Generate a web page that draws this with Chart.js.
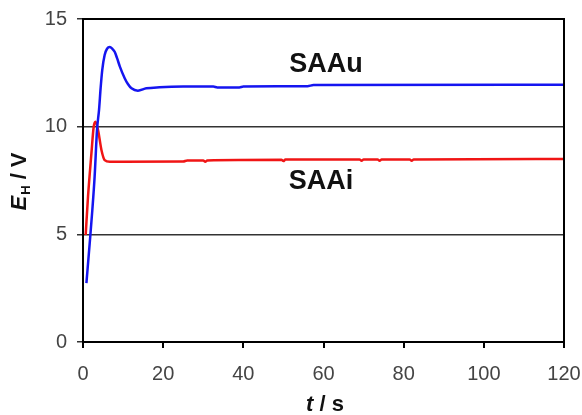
<!DOCTYPE html>
<html>
<head>
<meta charset="utf-8">
<script src="https://cdn.jsdelivr.net/npm/chart.js@4/dist/chart.umd.min.js"></script>
<style>
  html, body { margin: 0; padding: 0; background: #fff; }
  #wrap { width: 582px; height: 415px; }
</style>
</head>
<body>
<div id="wrap"><canvas id="chart"></canvas></div>
<script>
// time (s) and potential (V)
const saauTime = [0.85, 1.67, 2.33, 2.9, 3.5, 4.0, 4.4, 4.8, 5.4, 6.0, 6.7, 7.3, 7.9, 8.5, 9.2, 10.4, 11.2, 12.1, 13.7, 15.8, 19.1, 25, 32.5, 33.5, 39, 40, 56, 57.5, 120];
const saauValue = [2.73, 4.58, 6.13, 7.68, 9.85, 10.78, 11.8, 12.63, 13.33, 13.62, 13.7, 13.62, 13.48, 13.18, 12.79, 12.25, 11.98, 11.78, 11.67, 11.78, 11.83, 11.86, 11.86, 11.82, 11.82, 11.86, 11.88, 11.93, 11.95];

const saaiTime = [0.67, 1.25, 2.1, 2.67, 3.1, 3.75, 4.6, 5.4, 6.7, 10, 25, 26, 30, 30.5, 31, 49.5, 50, 50.5, 69, 69.5, 70, 73.5, 74, 74.5, 81.5, 82, 82.5, 120];
const saaiValue = [4.97, 6.75, 8.76, 10.0, 10.23, 9.85, 8.92, 8.45, 8.37, 8.37, 8.38, 8.43, 8.43, 8.37, 8.43, 8.46, 8.4, 8.47, 8.48, 8.42, 8.48, 8.48, 8.42, 8.48, 8.48, 8.42, 8.48, 8.5];

const xTicks = [0, 20, 40, 60, 80, 100, 120];
const yTicks = [0, 5, 10, 15];

// curve labels: text, t, value
const curveLabels = [
  { text: 'SAAu', t: 60.6, v: 12.9 },
  { text: 'SAAi', t: 59.4, v: 7.43 }
];

const FONT = "Arial, 'Liberation Sans', sans-serif";

function toPoints(xs, ys) {
  return xs.map((x, i) => ({ x: x, y: ys[i] }));
}

// frame, curve labels and axis titles (with subscript)
const extrasPlugin = {
  id: 'extras',
  afterDatasetsDraw(chart) {
    const { ctx, chartArea, scales } = chart;
    ctx.save();
    ctx.strokeStyle = '#000';
    ctx.lineWidth = 2;
    ctx.strokeRect(chartArea.left, chartArea.top, chartArea.right - chartArea.left, chartArea.bottom - chartArea.top);

    ctx.fillStyle = '#111';
    ctx.font = 'bold 27px ' + FONT;
    ctx.textAlign = 'center';
    ctx.textBaseline = 'middle';
    curveLabels.forEach(l => {
      ctx.fillText(l.text, scales.x.getPixelForValue(l.t), scales.y.getPixelForValue(l.v));
    });

    // x title
    ctx.textBaseline = 'alphabetic';
    ctx.textAlign = 'left';
    const big = 'bold 22px ' + FONT;
    const bigItalic = 'italic bold 22px ' + FONT;
    ctx.font = bigItalic;
    const wT = ctx.measureText('t').width;
    ctx.font = big;
    const wRest = ctx.measureText(' / s').width;
    let x0 = 325 - (wT + wRest) / 2;
    ctx.font = bigItalic;
    ctx.fillText('t', x0, 411);
    ctx.font = big;
    ctx.fillText(' / s', x0 + wT, 411);

    // y title, rotated
    ctx.translate(26, 182);
    ctx.rotate(-Math.PI / 2);
    const sub = 'bold 13px ' + FONT;
    ctx.font = bigItalic;
    const wE = ctx.measureText('E').width;
    ctx.font = sub;
    const wH = ctx.measureText('H').width;
    ctx.font = big;
    const wV = ctx.measureText(' / V').width;
    let s = -(wE + wH + wV) / 2;
    ctx.font = bigItalic;
    ctx.fillText('E', s, 0);
    ctx.font = sub;
    ctx.fillText('H', s + wE + 1, 4);
    ctx.font = big;
    ctx.fillText(' / V', s + wE + wH + 1, 0);
    ctx.restore();
  }
};

new Chart(document.getElementById('chart').getContext('2d'), {
  type: 'line',
  data: {
    datasets: [{
      label: 'SAAu',
      data: toPoints(saauTime, saauValue),
      borderColor: '#1515f0',
      borderWidth: 2.5,
      pointRadius: 0,
      fill: false,
      cubicInterpolationMode: 'monotone'
    }, {
      label: 'SAAi',
      data: toPoints(saaiTime, saaiValue),
      borderColor: '#f01515',
      borderWidth: 2.5,
      pointRadius: 0,
      fill: false,
      cubicInterpolationMode: 'monotone'
    }]
  },
  options: {
    responsive: true,
    maintainAspectRatio: false,
    animation: false,
    layout: { padding: { top: 19, right: 18, left: 0, bottom: 0 } },
    plugins: {
      legend: { display: false },
      tooltip: { enabled: false }
    },
    scales: {
      x: {
        type: 'linear',
        min: 0,
        max: 120,
        afterBuildTicks: scale => { scale.ticks = xTicks.map(v => ({ value: v })); },
        afterFit: scale => {
          scale.height = 73;
          scale.paddingLeft = 0;
          scale.paddingRight = 0;
        },
        ticks: { color: '#444', font: { family: FONT, size: 20 }, padding: 14, maxRotation: 0 },
        grid: { drawOnChartArea: false, drawTicks: true, tickLength: 6, color: '#000', lineWidth: 2 },
        border: { display: true, color: '#000', width: 2 }
      },
      y: {
        type: 'linear',
        min: 0,
        max: 15,
        afterBuildTicks: scale => { scale.ticks = yTicks.map(v => ({ value: v })); },
        afterFit: scale => {
          scale.width = 83;
          scale.paddingTop = 0;
          scale.paddingBottom = 0;
        },
        ticks: { color: '#444', font: { family: FONT, size: 20 }, padding: 10 },
        grid: { drawTicks: true, tickLength: 6, color: '#333', lineWidth: 1.5 },
        border: { display: true, color: '#000', width: 2 }
      }
    }
  },
  plugins: [extrasPlugin]
});
</script>
</body>
</html>
